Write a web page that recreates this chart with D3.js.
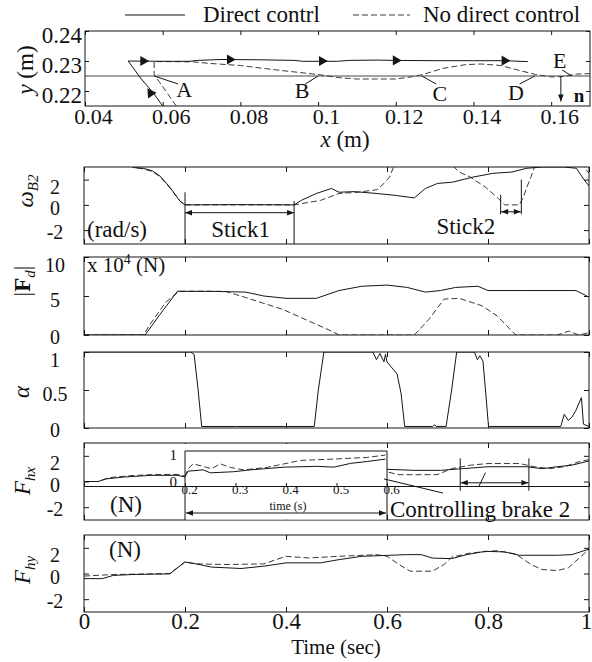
<!DOCTYPE html>
<html>
<head>
<meta charset="utf-8">
<script src="https://cdn.jsdelivr.net/npm/d3@7"></script>
<style>
body{margin:0;background:#fff}
svg text{font-family:'Liberation Serif','DejaVu Serif',serif;fill:#111}
</style>
</head>
<body>
<div id="fig"></div>
<script>
// ---- top panel: contact point trajectory (m)
var xTicksTop = [0.04,0.06,0.08,0.1,0.12,0.14,0.16];
var yTicksTop = [0.22,0.23,0.24];
var surfaceY = 0.225;
var solidTrajX = [0.0600,0.0575,0.0545,0.0511,0.060,0.067,0.069,0.075,0.085,0.094,0.096,0.105,0.108,0.115,0.12,0.13,0.14,0.148,0.154];
var solidTrajY = [0.2150,0.2195,0.2240,0.2300,0.2299,0.2299,0.2302,0.2305,0.2304,0.2302,0.2299,0.2299,0.2302,0.2303,0.2302,0.2301,0.2301,0.2301,0.2298];
var dashTrajX = [0.0635,0.0578,0.0578,0.062,0.068,0.072,0.08,0.088,0.095,0.1,0.105,0.11,0.12,0.124,0.127,0.132,0.138,0.142,0.147,0.152,0.156,0.16,0.163,0.166,0.17];
var dashTrajY = [0.2150,0.2255,0.2298,0.2298,0.2297,0.2292,0.2285,0.2272,0.2262,0.2255,0.2245,0.2240,0.2240,0.2247,0.2255,0.2275,0.2288,0.2290,0.2285,0.2268,0.2255,0.2247,0.2248,0.2256,0.2258];
var arrowX = [0.055,0.0773,0.101,0.12,0.148];
var arrowY = [0.2300,0.2305,0.2300,0.2302,0.2301];
var pointLabels = ["A","B","C","D","E"];
var pointX = [0.0578,0.100,0.1267,0.1558,0.1653];

// ---- time series, t in seconds
var timeTicks = [0,0.2,0.4,0.6,0.8,1];

var tOmegaSolid = [0,0.08,0.1,0.117,0.135,0.15,0.17,0.19,0.2,0.3,0.416,0.43,0.46,0.49,0.505,0.535,0.58,0.617,0.654,0.676,0.7,0.73,0.77,0.81,0.847,0.877,0.907,0.95,0.975,0.99,1.0];
var omegaSolid  = [3.5,3.3,2.95,2.9,2.7,2.3,1.4,0.3,0.0,0.02,0.0,0.35,0.9,1.3,1.0,1.05,0.9,0.75,0.55,1.3,1.7,1.8,2.2,2.5,2.6,2.9,3.0,3.0,2.9,2.0,1.5];
var tOmegaDash = [0,0.08,0.1,0.117,0.135,0.15,0.17,0.19,0.2,0.3,0.416,0.43,0.468,0.505,0.542,0.58,0.594,0.605,0.613,0.62,0.72,0.743,0.765,0.795,0.818,0.833,0.862,0.87,0.877,0.885,0.892,0.9,0.98,1.0];
var omegaDash  = [3.5,3.3,2.95,2.85,2.65,2.25,1.35,0.3,0.0,0.0,0.0,0.1,0.35,0.9,1.0,1.2,1.7,2.2,3.0,3.5,3.5,2.6,2.2,1.4,0.6,0.0,0.0,0.6,1.4,2.2,3.0,3.5,3.5,2.5];

var tFdSolid = [0,0.121,0.15,0.185,0.25,0.32,0.356,0.4,0.46,0.505,0.55,0.6,0.64,0.676,0.706,0.736,0.78,0.8,0.877,0.974,0.996];
var fdSolid  = [0,0,2.6,5.6,5.6,5.5,5.0,4.7,4.7,5.7,6.25,6.4,6.1,5.5,5.7,6.1,6.25,5.7,5.7,5.7,5.0];
var tFdDash = [0,0.118,0.129,0.162,0.188,0.28,0.32,0.393,0.445,0.49,0.505,0.654,0.683,0.713,0.743,0.788,0.818,0.855,0.937,0.96,0.98,1.0];
var fdDash  = [0,0,1.2,4.2,5.6,5.6,4.8,3.3,1.8,0.5,0,0,2.0,4.6,4.7,3.75,2.45,0,0,0.5,0,0.3];

var tAlpha = [0,0.211,0.218,0.226,0.233,0.3,0.456,0.464,0.475,0.572,0.579,0.586,0.594,0.597,0.60,0.62,0.628,0.635,0.69,0.694,0.698,0.717,0.728,0.738,0.773,0.779,0.784,0.79,0.795,0.801,0.944,0.951,0.959,0.966,0.974,0.985,0.989,1.0];
var alpha  = [1,1,0.97,0.5,0.02,0.02,0.02,0.5,1,1,0.9,0.98,0.87,0.97,0.87,0.71,0.45,0.02,0.02,0.04,0.02,0.02,0.5,1,1,0.9,0.95,0.88,0.5,0.02,0.02,0.18,0.1,0.14,0.23,0.4,0.05,0.02];

var tFhxSolid = [0,0.028,0.043,0.08,0.133,0.185,0.2,0.6,0.654,0.706,0.75,0.8,0.877,0.907,0.937,0.966,1.0];
var fhxSolid  = [0,0,0.2,0.35,0.48,0.48,0.35,0.95,0.87,0.87,1.0,1.15,1.15,1.0,1.15,1.27,1.6];
var tFhxDash = [0,0.028,0.05,0.09,0.14,0.19,0.2,0.6,0.624,0.699,0.728,0.765,0.8,0.862,0.892,0.922,0.951,0.981,1.0];
var fhxDash  = [0,0,0.3,0.45,0.55,0.55,0.4,0.75,0.53,0.53,1.0,1.27,1.4,1.4,1.15,1.0,1.15,1.55,1.7];
// zoomed inset, 0.2-0.6 s
var insetTicks = [0.2,0.3,0.4,0.5,0.6];
var tInsetSolid = [0.2,0.206,0.236,0.25,0.296,0.33,0.396,0.462,0.495,0.528,0.561,0.597];
var insetSolid  = [0.2,0.4,0.45,0.34,0.38,0.45,0.55,0.58,0.55,0.69,0.76,0.85];
var tInsetDash = [0.2,0.206,0.216,0.236,0.252,0.27,0.29,0.316,0.362,0.396,0.429,0.495,0.561,0.597];
var insetDash  = [0.2,0.49,0.67,0.58,0.49,0.67,0.54,0.45,0.54,0.67,0.8,0.85,0.91,1.0];

var tFhySolid = [0,0.036,0.058,0.095,0.17,0.185,0.2,0.222,0.252,0.311,0.356,0.4,0.468,0.505,0.55,0.64,0.668,0.69,0.728,0.758,0.795,0.833,0.862,0.937,0.966,1.0];
var fhySolid  = [-0.4,-0.4,-0.15,-0.08,-0.03,0.44,0.9,0.75,0.5,0.39,0.57,0.83,0.83,1.08,1.34,1.47,1.47,1.2,1.16,1.47,1.73,1.68,1.42,1.42,1.47,1.9];
var tFhyDash = [0,0.058,0.17,0.2,0.222,0.281,0.356,0.4,0.445,0.505,0.58,0.6,0.624,0.646,0.69,0.713,0.728,0.765,0.818,0.855,0.885,0.907,0.937,0.959,0.981,1.0];
var fhyDash  = [-0.2,-0.08,0,0.9,0.75,0.7,0.75,1.34,1.21,1.34,1.47,1.34,0.7,0.18,0.18,0.7,1.27,1.6,1.78,1.52,0.7,0.31,0.23,0.44,1.21,1.9];

var ink = "#151515";
var FONT = "Liberation Serif, DejaVu Serif, serif";
var svg = d3.select("#fig").append("svg").attr("width",592).attr("height",662)
  .attr("font-family", FONT);
var defs = svg.append("defs");
defs.append("marker").attr("id","ah").attr("viewBox","0 0 10 10")
  .attr("refX",10).attr("refY",5).attr("markerWidth",8).attr("markerHeight",7)
  .attr("orient","auto-start-reverse")
  .append("path").attr("d","M0,1L10,5L0,9Z").attr("fill",ink);

function seg(g, x1, y1, x2, y2, heads) {
  var l = g.append("line").attr("x1",x1).attr("y1",y1).attr("x2",x2).attr("y2",y2)
    .attr("stroke",ink).attr("stroke-width",1);
  if (heads > 0) l.attr("marker-end","url(#ah)");
  if (heads > 1) l.attr("marker-start","url(#ah)");
  return l;
}
function styleLine(p, dashed) {
  p.attr("fill","none").attr("stroke", dashed ? "#3a3a3a" : ink).attr("stroke-width",1);
  if (dashed) p.attr("stroke-dasharray","6,3");
  return p;
}
function txt(x, y, size, s, anchor) {
  return svg.append("text").attr("x",x).attr("y",y).attr("font-size",size)
    .attr("font-family",FONT).attr("text-anchor",anchor || "start").text(s);
}
function fixAxis(a, size) {
  a.attr("font-family", null).attr("font-size", size).attr("color", ink);
  a.selectAll("text").attr("font-family", FONT);
  return a;
}

// legend
seg(svg, 125, 15, 185, 15, 0);
txt(203, 22, 23, "Direct contrl");
styleLine(svg.append("path").attr("d","M353,15H410"), true);
txt(423, 22, 23, "No direct control");

// ---------- top panel
var xTop = d3.scaleLinear().domain([0.04,0.17]).range([85,590]);
var yTop = d3.scaleLinear().domain([0.215,0.24]).range([106,31]);
defs.append("clipPath").attr("id","cTop").append("rect").attr("x",85).attr("y",31).attr("width",505).attr("height",75);

var gx = svg.append("g").attr("transform","translate(0,106)")
  .call(d3.axisBottom(xTop).tickValues(xTicksTop).tickSize(-4).tickFormat(String));
gx.select(".domain").remove();
fixAxis(gx, 22);
gx.selectAll("text").attr("dy",0).attr("y",18).attr("dx",8);
var gxt = svg.append("g").attr("transform","translate(0,31)")
  .call(d3.axisTop(xTop).tickValues(xTicksTop).tickSize(-4).tickFormat(function(){return "";}));
gxt.select(".domain").remove(); gxt.attr("color",ink);
var gy = svg.append("g").attr("transform","translate(85,0)")
  .call(d3.axisLeft(yTop).tickValues(yTicksTop).tickSize(-4).tickPadding(3).tickFormat(String));
gy.select(".domain").remove();
fixAxis(gy, 23);
gy.selectAll("text").attr("dy",11);
var gyr = svg.append("g").attr("transform","translate(590,0)")
  .call(d3.axisRight(yTop).tickValues(yTicksTop).tickSize(-4).tickFormat(function(){return "";}));
gyr.select(".domain").remove(); gyr.attr("color",ink);
svg.append("rect").attr("x",85).attr("y",31).attr("width",505).attr("height",75)
  .attr("fill","none").attr("stroke",ink);

var topPlot = svg.append("g").attr("clip-path","url(#cTop)");
topPlot.append("line").attr("x1",85).attr("x2",590).attr("y1",yTop(surfaceY)).attr("y2",yTop(surfaceY))
  .attr("stroke","#444").attr("stroke-width",1);
var trajLine = d3.line().x(function(d){return xTop(d[0]);}).y(function(d){return yTop(d[1]);});
styleLine(topPlot.append("path").datum(d3.zip(dashTrajX,dashTrajY)).attr("d",trajLine), true);
styleLine(topPlot.append("path").datum(d3.zip(solidTrajX,solidTrajY)).attr("d",trajLine), false);
topPlot.selectAll(".tri").data(d3.zip(arrowX,arrowY)).enter().append("path")
  .attr("d", d3.symbol().type(d3.symbolTriangle).size(45))
  .attr("transform", function(d){return "translate("+xTop(d[0])+","+yTop(d[1])+") rotate(90)";})
  .attr("fill", ink);
// arrow on the approach leg
topPlot.append("path").attr("d", d3.symbol().type(d3.symbolTriangle).size(45))
  .attr("transform","translate("+xTop(0.0569)+","+yTop(0.2193)+") rotate(-34)").attr("fill",ink);

// point labels with leaders
var lblDx = [30,-16,18,-19,-12], lblDy = [21,22,25,24,-8];
pointLabels.forEach(function(s,i){
  var px = xTop(pointX[i]), py = yTop(surfaceY);
  seg(svg, px, py, px + lblDx[i]*0.8, py + (lblDy[i] > 0 ? 8 : -6), 0);
  txt(px + lblDx[i], py + lblDy[i], 22, s, "middle");
});
// normal vector n
seg(svg, xTop(0.1625), yTop(surfaceY), xTop(0.1625), yTop(0.2165), 1);
txt(xTop(0.1658), 102, 19, "n").attr("font-weight","bold");

var xt = txt(345, 147, 23, "", "middle");
xt.append("tspan").attr("font-style","italic").text("x");
xt.append("tspan").text(" (m)");

function yLabel(cx, cy, build) {
  svg.append("text").attr("transform","translate("+cx+","+cy+") rotate(-90)")
    .attr("dy","0.35em").attr("font-size",23).attr("font-family",FONT)
    .attr("text-anchor","middle").call(build);
}
yLabel(25, 70, function(t){
  t.append("tspan").attr("font-style","italic").text("y");
  t.append("tspan").text(" (m)");
});

// ---------- time panels
var xT = d3.scaleLinear().domain([0,1]).range([84,589]);
var tLine = function(y){ return d3.line().x(function(d){return xT(d[0]);}).y(function(d){return y(d[1]);}); };

function makePanel(top, bot, dom, ticks) {
  var y = d3.scaleLinear().domain(dom).range([bot, top]);
  var id = "c" + top;
  defs.append("clipPath").attr("id",id).append("rect")
    .attr("x",84).attr("y",top).attr("width",505).attr("height",bot-top);
  var g = svg.append("g");
  var ax = g.append("g").attr("transform","translate(84,0)")
    .call(d3.axisLeft(y).tickValues(ticks).tickSize(-5).tickFormat(String));
  ax.select(".domain").remove();
  fixAxis(ax, 20);
  var last = ticks.length - 1;
  ax.selectAll("text").attr("text-anchor","middle").attr("x",-29)
    .attr("dy", function(d,i){ return i === last ? 14 : (i === 0 ? 8 : 10); });
  var none = function(){return "";};
  [[d3.axisRight(y).tickValues(ticks),"translate(589,0)"],
   [d3.axisTop(xT).tickValues(timeTicks),"translate(0,"+top+")"],
   [d3.axisBottom(xT).tickValues(timeTicks),"translate(0,"+bot+")"]].forEach(function(a){
    var s = g.append("g").attr("transform",a[1]).call(a[0].tickSize(-5).tickFormat(none));
    s.select(".domain").remove(); s.attr("color",ink);
  });
  var plot = g.append("g").attr("clip-path","url(#"+id+")");
  var p = {y:y, g:g, plot:plot, top:top, bot:bot};
  p.series = function(ts, vs, dashed){
    styleLine(plot.append("path").datum(d3.zip(ts,vs)).attr("d", tLine(y)), dashed);
  };
  p.frame = function(){
    g.append("rect").attr("x",84).attr("y",top).attr("width",505).attr("height",bot-top)
      .attr("fill","none").attr("stroke",ink);
  };
  return p;
}

// omega_B2
var pW = makePanel(167, 244, [-3.1,3], [-2,0,2]);
pW.series(tOmegaDash, omegaDash, true);
pW.series(tOmegaSolid, omegaSolid, false);
pW.frame();
seg(svg, xT(0.2), pW.y(1.0), xT(0.2), pW.bot, 0);
seg(svg, xT(0.416), pW.y(0.3), xT(0.416), pW.bot, 0);
seg(svg, xT(0.2), pW.y(-0.62), xT(0.416), pW.y(-0.62), 2);
seg(svg, xT(0.825), pW.y(0.8), xT(0.825), pW.y(-0.75), 0);
seg(svg, xT(0.866), pW.y(2.0), xT(0.866), pW.y(-0.75), 0);
seg(svg, xT(0.826), pW.y(-0.55), xT(0.865), pW.y(-0.55), 2);
txt(xT(0.31), 237, 23, "Stick1", "middle");
txt(xT(0.756), 234, 23, "Stick2", "middle");
txt(87, 237, 23, "(rad/s)");
yLabel(25, 191, function(t){
  t.append("tspan").attr("font-style","italic").text("ω");
  t.append("tspan").attr("font-style","italic").attr("font-size",15).attr("dy",5).text("B2");
});

// |F_d|
var pF = makePanel(257, 335, [0,10], [0,5,10]);
pF.series(tFdDash, fdDash, true);
pF.series(tFdSolid, fdSolid, false);
pF.frame();
var fu = txt(87, 272, 21, "");
fu.append("tspan").text("x 10");
fu.append("tspan").attr("font-size",14).attr("dy",-8).text("4");
fu.append("tspan").attr("dy",8).text(" (N)");
yLabel(22, 281, function(t){
  t.append("tspan").text("|");
  t.append("tspan").attr("font-weight","bold").text("F");
  t.append("tspan").attr("font-style","italic").attr("font-size",15).attr("dy",5).text("d");
  t.append("tspan").attr("dy",-5).text("|");
});

// alpha
var pA = makePanel(352, 428, [0,1], [0,0.5,1]);
pA.series(tAlpha, alpha, false);
pA.frame();
yLabel(21, 392, function(t){ t.append("tspan").attr("font-style","italic").text("α"); });

// F_hx with inset
var pX = makePanel(443, 520, [-3,3], [-2,0,2]);
pX.series(tFhxDash, fhxDash, true);
pX.series(tFhxSolid, fhxSolid, false);
pX.frame();
var inset = svg.append("g");
inset.append("rect").attr("x",xT(0.2)).attr("y",444).attr("width",xT(0.6)-xT(0.2)).attr("height",75.5).attr("fill","#fff");
var yIn = d3.scaleLinear().domain([0,1]).range([482,455]);
styleLine(inset.append("path").datum(d3.zip(tInsetDash,insetDash)).attr("d", tLine(yIn)), true);
styleLine(inset.append("path").datum(d3.zip(tInsetSolid,insetSolid)).attr("d", tLine(yIn)), false);
seg(inset, xT(0.2), 451, xT(0.6), 451, 0);
seg(inset, xT(0.2), 451, xT(0.2), 520, 0);
seg(inset, xT(0.6), 451, xT(0.6), 520, 0);
var ixa = inset.append("g").attr("transform","translate(0,486)")
  .call(d3.axisBottom(xT).tickValues(insetTicks).tickSize(-3).tickFormat(String));
fixAxis(ixa, 13);
ixa.select(".domain").attr("stroke",ink);
ixa.selectAll("text").attr("dy",0).attr("y",8).attr("dx",4);
var iya = inset.append("g").attr("transform","translate("+xT(0.2)+",0)")
  .call(d3.axisLeft(yIn).tickValues([0,1]).tickSize(0).tickPadding(8).tickFormat(String));
iya.select(".domain").remove();
fixAxis(iya, 15);
txt(288, 510, 12, "time (s)", "middle");
seg(inset, xT(0.2)+1, 513, xT(0.6)-1, 513, 2);
// controlling brake 2
seg(svg, xT(0.745), pX.y(1.8), xT(0.745), pX.y(-0.72), 0);
seg(svg, xT(0.881), pX.y(1.8), xT(0.881), pX.y(-0.72), 0);
seg(svg, xT(0.746), pX.y(-0.1), xT(0.88), pX.y(-0.1), 2);
seg(svg, xT(0.782), pX.y(-0.37), xT(0.795), pX.y(0.69), 0);
seg(svg, xT(0.594), pX.y(0.2), xT(0.711), pX.y(-0.9), 0);
txt(390, 517, 23, "Controlling brake 2");
txt(126, 512, 23, "(N)", "middle");
yLabel(22, 481, function(t){
  t.append("tspan").attr("font-style","italic").text("F");
  t.append("tspan").attr("font-style","italic").attr("font-size",15).attr("dy",5).text("hx");
});

// F_hy
var pY = makePanel(535, 612, [-3,3], [-2,0,2]);
pY.series(tFhyDash, fhyDash, true);
pY.series(tFhySolid, fhySolid, false);
pY.frame();
txt(125, 557, 23, "(N)", "middle");
yLabel(22, 570, function(t){
  t.append("tspan").attr("font-style","italic").text("F");
  t.append("tspan").attr("font-style","italic").attr("font-size",15).attr("dy",5).text("hy");
});

// time axis labels
var tx = svg.append("g").attr("transform","translate(0,612)")
  .call(d3.axisBottom(xT).tickValues(timeTicks).tickSize(0).tickFormat(String));
tx.select(".domain").remove();
fixAxis(tx, 23);
tx.selectAll("text").attr("dy",0).attr("y",17);
tx.selectAll("text").filter(function(d){return d === 1;}).attr("dx",-3);
txt(336, 654, 21, "Time (sec)", "middle");
</script>
</body>
</html>
